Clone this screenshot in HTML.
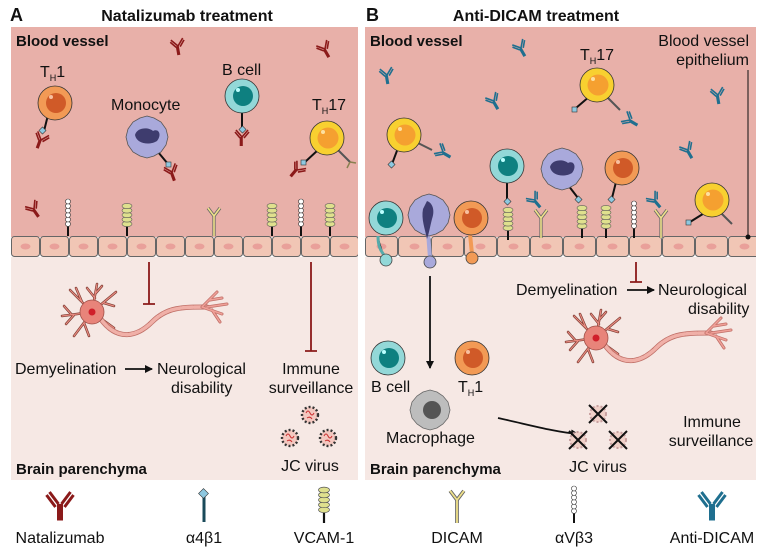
<!DOCTYPE html>
<html><head><meta charset="utf-8"><style>
body{margin:0;background:#fff}
svg{display:block}
text{font-family:"Liberation Sans",sans-serif;fill:#111}
.b{font-weight:bold}
</style></head><body>
<svg width="761" height="551" viewBox="0 0 761 551" xmlns="http://www.w3.org/2000/svg">
<defs>
<g id="abR"><path d="M0,0 V9 M-1.5,0 V9 M0,0 L-6,-7 M-2,1 L-7,-5 M0,0 L6,-7 M2,1 L7,-5" stroke="#8b1a1a" stroke-width="1.6" fill="none"/></g>
<g id="abB"><path d="M0,0 V9 M-1.5,0 V9 M0,0 L-6,-7 M-2,1 L-7,-5 M0,0 L6,-7 M2,1 L7,-5" stroke="#1f6f8f" stroke-width="1.6" fill="none"/></g>
<g id="vcam"><line x1="0" y1="0" x2="0" y2="-10" stroke="#111" stroke-width="2"/>
<g fill="#dfe08e" stroke="#555" stroke-width="0.6"><ellipse cx="0" cy="-12" rx="5" ry="2.6"/><ellipse cx="0" cy="-16.5" rx="5" ry="2.6"/><ellipse cx="0" cy="-21" rx="5" ry="2.6"/><ellipse cx="0" cy="-25.5" rx="5" ry="2.6"/><ellipse cx="0" cy="-30" rx="5" ry="2.6"/></g></g>
<g id="avb"><line x1="0" y1="0" x2="0" y2="-10" stroke="#111" stroke-width="2"/>
<g fill="#fff" stroke="#333" stroke-width="0.6"><circle cx="0" cy="-12" r="2.5"/><circle cx="0" cy="-16.5" r="2.5"/><circle cx="0" cy="-21" r="2.5"/><circle cx="0" cy="-25.5" r="2.5"/><circle cx="0" cy="-30" r="2.5"/><circle cx="0" cy="-34.5" r="2.5"/></g></g>
<g id="dicam"><path d="M0,0 V-20 L-6,-28 M0,-20 L6,-28" stroke="#666" stroke-width="3.2" fill="none"/><path d="M0,0 V-20 L-6,-28 M0,-20 L6,-28" stroke="#eee08a" stroke-width="1.6" fill="none"/></g>
<g id="th1"><circle r="17" fill="#f29a55" stroke="#333" stroke-width="0.8"/><circle cx="1" r="10" fill="#d05a28"/><circle cx="-4" cy="-6" r="2" fill="#f7c0a0"/></g>
<g id="bc"><circle r="17" fill="#93d8d8" stroke="#333" stroke-width="0.8"/><circle cx="1" r="10" fill="#0e8080"/><circle cx="-4" cy="-6" r="2" fill="#bff"/></g>
<g id="th17"><circle r="17" fill="#f8d030" stroke="#333" stroke-width="0.8"/><circle cx="1" r="10.5" fill="#f5a030"/><circle cx="-4" cy="-6" r="2" fill="#fde0a0"/></g>
<g id="mono"><path d="M0,-21 L7,-19 L14,-15 L19,-8 L21,0 L19,8 L14,15 L7,19 L0,21 L-7,19 L-14,15 L-19,8 L-21,0 L-19,-8 L-14,-15 L-7,-19Z" fill="#a9a9db" stroke="#555" stroke-width="0.8"/><path d="M-12,-2 C-10,-10 2,-10 6,-6 C12,-9 15,-2 10,4 C4,8 -10,8 -12,-2Z" fill="#3e3c6e"/></g>
<g id="jc"><circle r="8" fill="#f3c8c0" stroke="#333" stroke-width="2.4" stroke-dasharray="2 2"/><path d="M-4,-2 q2,-4 4,0 q2,4 4,0 M-3,3 q3,-2 5,1" stroke="#c33" stroke-width="1" fill="none"/></g>
<g id="jcx"><circle r="8" fill="#f0d0c8" stroke="#c8a0a0" stroke-width="2" stroke-dasharray="2 2"/><path d="M-9,-9 L9,9 M9,-9 L-9,9" stroke="#111" stroke-width="2"/></g>
<g id="neuron" stroke="#7a3a30" stroke-linecap="round" fill="none">
<path d="M0,0 L-22,-22 M-10,-10 L-16,-24 M0,0 L5,-28 M3,-14 L-5,-24 M3,-18 L10,-26 M0,0 L24,-20 M12,-9 L22,-6 M0,0 L-30,4 M-18,3 L-26,12 M-20,3 L-28,-6 M0,0 L-18,24 M-8,11 L-3,24 M0,0 L22,16" stroke-width="2.5"/>
<path d="M0,0 L-22,-22 M-10,-10 L-16,-24 M0,0 L5,-28 M3,-14 L-5,-24 M3,-18 L10,-26 M0,0 L24,-20 M12,-9 L22,-6 M0,0 L-30,4 M-18,3 L-26,12 M-20,3 L-28,-6 M0,0 L-18,24 M-8,11 L-3,24 M0,0 L22,16" stroke="#e88a80" stroke-width="1.2"/>
<path d="M8,6 C25,30 45,25 60,10 C75,-5 90,-5 115,-5" stroke="#c07068" stroke-width="5"/>
<path d="M8,6 C25,30 45,25 60,10 C75,-5 90,-5 115,-5" stroke="#f0b0a8" stroke-width="3.5" stroke-dasharray="10 2"/>
<path d="M110,-5 L125,-20 M118,-12 L130,-14 M110,-5 L130,2 M120,-2 L128,10 M115,-5 L135,-8" stroke="#c07068" stroke-width="3"/>
<path d="M110,-5 L125,-20 M118,-12 L130,-14 M110,-5 L130,2 M120,-2 L128,10 M115,-5 L135,-8" stroke="#f0a098" stroke-width="1.5"/>
<circle r="12" fill="#e8847a" stroke="#a05048" stroke-width="0.8"/><circle r="3.5" fill="#d01f2a" stroke="none"/>
</g>
<pattern id="epA" x="11" y="236" width="29" height="21" patternUnits="userSpaceOnUse"><rect x="0.5" y="0.5" width="28" height="20" rx="3" fill="#f1c6b5" stroke="#666" stroke-width="1"/><ellipse cx="14.5" cy="10.5" rx="5" ry="3" fill="#e9a09a"/></pattern>
<pattern id="epB" x="365" y="236" width="33" height="21" patternUnits="userSpaceOnUse"><rect x="0.5" y="0.5" width="32" height="20" rx="3" fill="#f1c6b5" stroke="#666" stroke-width="1"/><ellipse cx="16.5" cy="10.5" rx="5" ry="3" fill="#e9a09a"/></pattern>
<marker id="ar" markerWidth="8" markerHeight="8" refX="7" refY="4" orient="auto" markerUnits="userSpaceOnUse"><path d="M0,0 L8,4 L0,8Z" fill="#111"/></marker>
</defs>

<!-- Panel A -->
<rect x="11" y="27" width="347" height="210" fill="#e8b0a9"/>
<rect x="11" y="257" width="347" height="223" fill="#f6e8e4"/>
<rect x="11" y="236" width="347" height="21" fill="url(#epA)"/>
<text x="10" y="21" class="b" font-size="18">A</text>
<text x="187" y="21" class="b" font-size="16" text-anchor="middle">Natalizumab treatment</text>
<text x="16" y="46" class="b" font-size="15">Blood vessel</text>
<use href="#abR" x="178" y="46" transform="rotate(-10 178 46)"/>
<use href="#abR" x="325" y="49" transform="rotate(-30 325 49)"/>
<use href="#abR" x="34" y="209" transform="rotate(-35 34 209)"/>
<text x="40" y="77" font-size="16">T<tspan font-size="9" dy="4">H</tspan><tspan dy="-4">1</tspan></text>
<line x1="48" y1="115" x2="44" y2="131" stroke="#111" stroke-width="2"/>
<use href="#th1" x="55" y="103"/>
<rect x="40" y="128" width="5" height="5" fill="#8ec8e0" stroke="#333" stroke-width="0.6" transform="rotate(45 42.5 130.5)"/>
<use href="#abR" x="41" y="140" transform="rotate(20 41 140)"/>
<text x="111" y="110" font-size="16">Monocyte</text>
<line x1="158" y1="152" x2="168" y2="164" stroke="#111" stroke-width="2"/>
<use href="#mono" x="147" y="137"/>
<rect x="166" y="162" width="5" height="5" fill="#8ec8e0" stroke="#333" stroke-width="0.6"/>
<use href="#abR" x="172" y="172" transform="rotate(-20 172 172)"/>
<text x="222" y="75" font-size="16">B cell</text>
<line x1="242" y1="110" x2="242" y2="128" stroke="#111" stroke-width="2"/>
<use href="#bc" x="242" y="96"/>
<rect x="240" y="127" width="5" height="5" fill="#8ec8e0" stroke="#333" stroke-width="0.6" transform="rotate(45 242.5 129.5)"/>
<use href="#abR" x="242" y="137"/>
<text x="312" y="110" font-size="16">T<tspan font-size="9" dy="4">H</tspan><tspan dy="-4">17</tspan></text>
<line x1="318" y1="150" x2="305" y2="162" stroke="#111" stroke-width="2"/>
<line x1="338" y1="150" x2="350" y2="162" stroke="#555" stroke-width="2"/>
<use href="#th17" x="327" y="138"/>
<rect x="301" y="160" width="5" height="5" fill="#8ec8e0" stroke="#333" stroke-width="0.6"/>
<use href="#abR" x="297" y="170" transform="rotate(40 297 170)"/>
<path d="M350,162 L347,168 M350,162 L356,163" stroke="#8a8050" stroke-width="1.5"/>
<use href="#avb" x="68" y="236"/>
<use href="#vcam" x="127" y="236"/>
<use href="#dicam" x="214" y="236"/>
<use href="#vcam" x="272" y="236"/>
<use href="#avb" x="301" y="236"/>
<use href="#vcam" x="330" y="236"/>
<path d="M149,262 V304 M143,304 H155" stroke="#8b1a1a" stroke-width="1.8"/>
<path d="M311,262 V351 M305,351 H317" stroke="#8b1a1a" stroke-width="1.8"/>
<use href="#neuron" x="92" y="312"/>
<text x="15" y="374" font-size="16">Demyelination</text>
<line x1="125" y1="369" x2="152" y2="369" stroke="#111" stroke-width="1.8" marker-end="url(#ar)"/>
<text x="157" y="374" font-size="16">Neurological</text>
<text x="171" y="393" font-size="16">disability</text>
<text x="311" y="374" font-size="16" text-anchor="middle">Immune</text>
<text x="311" y="393" font-size="16" text-anchor="middle">surveillance</text>
<use href="#jc" x="310" y="415"/>
<use href="#jc" x="290" y="438"/>
<use href="#jc" x="328" y="438"/>
<text x="310" y="471" font-size="16" text-anchor="middle">JC virus</text>
<text x="16" y="474" class="b" font-size="15">Brain parenchyma</text>

<!-- Panel B -->
<rect x="365" y="27" width="391" height="210" fill="#e8b0a9"/>
<rect x="365" y="257" width="391" height="223" fill="#f6e8e4"/>
<rect x="365" y="236" width="391" height="21" fill="url(#epB)"/>
<text x="366" y="21" class="b" font-size="18">B</text>
<text x="536" y="21" class="b" font-size="16" text-anchor="middle">Anti-DICAM treatment</text>
<text x="370" y="46" class="b" font-size="15">Blood vessel</text>
<text x="749" y="46" font-size="16" text-anchor="end">Blood vessel</text>
<text x="749" y="65" font-size="16" text-anchor="end">epithelium</text>
<line x1="748" y1="70" x2="748" y2="236" stroke="#111" stroke-width="1"/>
<circle cx="748" cy="237" r="2.5" fill="#111"/>
<use href="#abB" x="387" y="75" transform="rotate(-10 387 75)"/>
<use href="#abB" x="521" y="48" transform="rotate(-30 521 48)"/>
<use href="#abB" x="494" y="101" transform="rotate(-30 494 101)"/>
<use href="#abB" x="718" y="95" transform="rotate(-10 718 95)"/>
<use href="#abB" x="688" y="150" transform="rotate(-30 688 150)"/>
<use href="#abB" x="630" y="120" transform="rotate(-60 630 120)"/>
<use href="#abB" x="443" y="152" transform="rotate(-60 443 152)"/>
<use href="#abB" x="535" y="200" transform="rotate(-40 535 200)"/>
<use href="#abB" x="655" y="200" transform="rotate(-40 655 200)"/>
<line x1="398" y1="148" x2="392" y2="164" stroke="#111" stroke-width="2"/>
<line x1="416" y1="142" x2="432" y2="150" stroke="#555" stroke-width="2"/>
<use href="#th17" x="404" y="135"/>
<rect x="389" y="162" width="5" height="5" fill="#8ec8e0" stroke="#333" stroke-width="0.6" transform="rotate(45 391.5 164.5)"/>
<text x="580" y="60" font-size="16">T<tspan font-size="9" dy="4">H</tspan><tspan dy="-4">17</tspan></text>
<line x1="590" y1="96" x2="576" y2="108" stroke="#111" stroke-width="2"/>
<line x1="606" y1="96" x2="620" y2="110" stroke="#555" stroke-width="2"/>
<use href="#th17" x="597" y="85"/>
<rect x="572" y="107" width="5" height="5" fill="#8ec8e0" stroke="#333" stroke-width="0.6"/>
<line x1="706" y1="212" x2="690" y2="222" stroke="#111" stroke-width="2"/>
<line x1="720" y1="212" x2="732" y2="224" stroke="#555" stroke-width="2"/>
<use href="#th17" x="712" y="200"/>
<rect x="686" y="220" width="5" height="5" fill="#8ec8e0" stroke="#333" stroke-width="0.6"/>
<line x1="507" y1="180" x2="507" y2="200" stroke="#111" stroke-width="2"/>
<use href="#bc" x="507" y="166"/>
<rect x="505" y="199" width="5" height="5" fill="#8ec8e0" stroke="#333" stroke-width="0.6" transform="rotate(45 507.5 201.5)"/>
<line x1="568" y1="185" x2="578" y2="198" stroke="#111" stroke-width="2"/>
<use href="#mono" x="562" y="169"/>
<rect x="576" y="197" width="5" height="5" fill="#8ec8e0" stroke="#333" stroke-width="0.6" transform="rotate(45 578.5 199.5)"/>
<line x1="616" y1="182" x2="612" y2="198" stroke="#111" stroke-width="2"/>
<use href="#th1" x="622" y="168"/>
<rect x="609" y="197" width="5" height="5" fill="#8ec8e0" stroke="#333" stroke-width="0.6" transform="rotate(45 611.5 199.5)"/>
<use href="#vcam" x="508" y="240"/>
<use href="#dicam" x="541" y="238"/>
<use href="#vcam" x="582" y="238"/>
<use href="#vcam" x="606" y="238"/>
<use href="#avb" x="634" y="238"/>
<use href="#dicam" x="661" y="238"/>
<path d="M378,236 C378,245 380,250 384,255" stroke="#5aa" stroke-width="3"/>
<circle cx="386" cy="260" r="6" fill="#93d8d8" stroke="#444" stroke-width="0.8"/>
<use href="#bc" x="386" y="218"/>
<path d="M428,232 L430,258" stroke="#a9a9db" stroke-width="4"/>
<circle cx="430" cy="262" r="6" fill="#a9a9db" stroke="#444" stroke-width="0.8"/>
<g transform="translate(429,215)"><path d="M0,-21 L7,-19 L14,-15 L19,-8 L21,0 L19,8 L14,15 L7,19 L0,21 L-7,19 L-14,15 L-19,8 L-21,0 L-19,-8 L-14,-15 L-7,-19Z" fill="#a9a9db" stroke="#555" stroke-width="0.8"/><path d="M-2,-14 C4,-12 6,-4 3,4 C1,12 0,18 -2,24 C-4,14 -8,4 -6,-6Z" fill="#3e3c6e"/></g>
<path d="M470,234 L472,254" stroke="#f29a55" stroke-width="4"/>
<circle cx="472" cy="258" r="6" fill="#f29a55" stroke="#444" stroke-width="0.8"/>
<use href="#th1" x="471" y="218"/>
<line x1="430" y1="276" x2="430" y2="368" stroke="#111" stroke-width="1.8" marker-end="url(#ar)"/>
<use href="#bc" x="388" y="358"/>
<text x="371" y="392" font-size="16">B cell</text>
<use href="#th1" x="472" y="358"/>
<text x="458" y="392" font-size="16">T<tspan font-size="9" dy="4">H</tspan><tspan dy="-4">1</tspan></text>
<g transform="translate(430,410)"><path d="M0,-20 L7,-18 L13,-14 L18,-8 L20,0 L18,8 L13,14 L7,18 L0,20 L-7,18 L-13,14 L-18,8 L-20,0 L-18,-8 L-13,-14 L-7,-18Z" fill="#bdbdbd" stroke="#666" stroke-width="0.8"/><circle cx="2" r="9" fill="#555"/></g>
<text x="386" y="443" font-size="16">Macrophage</text>
<path d="M498,418 C530,425 555,432 578,434" stroke="#111" stroke-width="1.8" fill="none" marker-end="url(#ar)"/>
<use href="#jcx" x="598" y="414"/>
<use href="#jcx" x="578" y="440"/>
<use href="#jcx" x="618" y="440"/>
<text x="712" y="427" font-size="16" text-anchor="middle">Immune</text>
<text x="711" y="446" font-size="16" text-anchor="middle">surveillance</text>
<text x="598" y="472" font-size="16" text-anchor="middle">JC virus</text>
<text x="370" y="474" class="b" font-size="15">Brain parenchyma</text>
<path d="M636,262 V282 M630,282 H642" stroke="#8b1a1a" stroke-width="1.8"/>
<text x="516" y="295" font-size="16">Demyelination</text>
<line x1="627" y1="290" x2="654" y2="290" stroke="#111" stroke-width="1.8" marker-end="url(#ar)"/>
<text x="658" y="295" font-size="16">Neurological</text>
<text x="688" y="314" font-size="16">disability</text>
<use href="#neuron" x="596" y="338"/>

<!-- Legend -->
<g transform="translate(60,504) scale(1.5)"><path d="M-1,0 V11 M1,0 V11 M-1,0 L-7,-8 M-3,2 L-9,-6 M1,0 L7,-8 M3,2 L9,-6" stroke="#8b1a1a" stroke-width="2" fill="none"/></g>
<text x="60" y="543" font-size="16" text-anchor="middle">Natalizumab</text>
<line x1="204" y1="496" x2="204" y2="522" stroke="#1a4a5a" stroke-width="3"/>
<rect x="200" y="490" width="7" height="7" fill="#8ec8e0" stroke="#333" stroke-width="0.6" transform="rotate(45 203.5 493.5)"/>
<text x="204" y="543" font-size="16" text-anchor="middle">α4β1</text>
<g transform="translate(324,523) scale(1.1)"><use href="#vcam"/></g>
<text x="324" y="543" font-size="16" text-anchor="middle">VCAM-1</text>
<g transform="translate(457,523) scale(1.15)"><use href="#dicam"/></g>
<text x="457" y="543" font-size="16" text-anchor="middle">DICAM</text>
<use href="#avb" x="574" y="523"/>
<text x="574" y="543" font-size="16" text-anchor="middle">αVβ3</text>
<g transform="translate(712,504) scale(1.5)"><path d="M-1,0 V11 M1,0 V11 M-1,0 L-7,-8 M-3,2 L-9,-6 M1,0 L7,-8 M3,2 L9,-6" stroke="#1f6f8f" stroke-width="2" fill="none"/></g>
<text x="712" y="543" font-size="16" text-anchor="middle">Anti-DICAM</text>
</svg>
</body></html>
